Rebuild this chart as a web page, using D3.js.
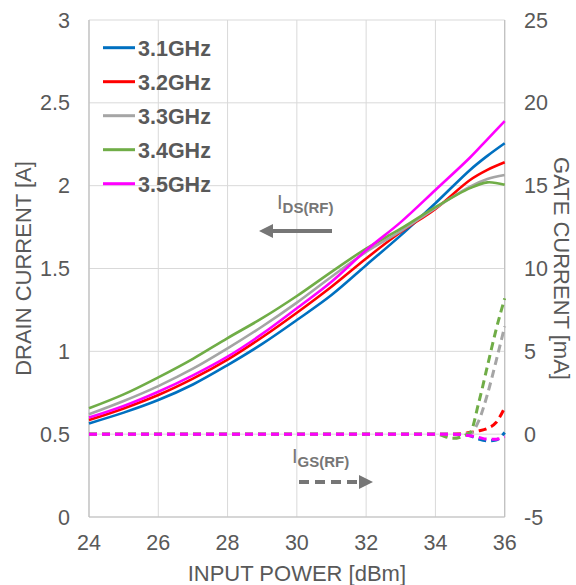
<!DOCTYPE html>
<html>
<head>
<meta charset="utf-8">
<script src="https://cdn.jsdelivr.net/npm/d3@7"></script>
<style>
  body { margin: 0; background: #fff; }
  svg text { font-family: "Liberation Sans", Arial, sans-serif; }
</style>
</head>
<body>
<svg id="chart" width="576" height="585"></svg>
<script>
// input power [dBm]
const drainX = [24, 25, 26, 27, 28, 29, 30, 31, 32, 33, 34, 35, 35.5, 36];
const gateX = [24, 30, 34, 34.5, 35, 35.25, 35.5, 35.75, 36];

const freqs = ["3.1GHz", "3.2GHz", "3.3GHz", "3.4GHz", "3.5GHz"];
const colors = ["#0070C0", "#FF0000", "#A5A5A5", "#70AD47", "#FF00FF"];

// drain current [A]
const ids31 = [0.565, 0.63, 0.706, 0.80, 0.917, 1.045, 1.189, 1.34, 1.52, 1.70, 1.894, 2.095, 2.18, 2.256];
const ids32 = [0.585, 0.655, 0.736, 0.835, 0.95, 1.085, 1.233, 1.39, 1.56, 1.72, 1.86, 2.034, 2.095, 2.141];
const ids33 = [0.62, 0.70, 0.79, 0.895, 1.018, 1.15, 1.294, 1.45, 1.60, 1.725, 1.865, 1.994, 2.04, 2.064];
const ids34 = [0.656, 0.74, 0.843, 0.955, 1.08, 1.20, 1.334, 1.48, 1.62, 1.74, 1.87, 1.985, 2.02, 2.005];
const ids35 = [0.60, 0.67, 0.756, 0.855, 0.968, 1.105, 1.26, 1.42, 1.61, 1.78, 1.974, 2.17, 2.28, 2.39];

// gate current [mA]
const igs31 = [0, 0, 0, 0, -0.1, -0.3, -0.4, -0.35, 0.1];
const igs32 = [0, 0, 0, 0, 0.1, 0.2, 0.35, 0.7, 1.6];
const igs33 = [0, 0, 0, 0, 0.05, 0.8, 2.4, 4.4, 6.5];
const igs34 = [0, 0, 0, -0.25, 0.1, 1.9, 4.1, 6.3, 8.2];
const igs35 = [0, 0, 0, 0, -0.1, -0.2, -0.3, -0.3, -0.15];

const xTicks = [24, 26, 28, 30, 32, 34, 36];
const leftTicks = [0, 0.5, 1, 1.5, 2, 2.5, 3];
const rightTicks = [-5, 0, 5, 10, 15, 20, 25];

const idsSeries = [ids31, ids32, ids33, ids34, ids35];
const igsSeries = [igs31, igs32, igs33, igs34, igs35];

const svg = d3.select("#chart");
const pLeft = 89, pRight = 504.7, pTop = 20, pBottom = 517;
const textColor = "#595959";
const tickSize = "21.5px";

const x = d3.scaleLinear().domain([24, 36]).range([pLeft, pRight]);
const yL = d3.scaleLinear().domain([0, 3]).range([pBottom, pTop]);
const yR = d3.scaleLinear().domain([-5, 25]).range([pBottom, pTop]);

// grid
svg.append("g").selectAll("line").data(xTicks).enter().append("line")
    .attr("x1", d => x(d)).attr("x2", d => x(d))
    .attr("y1", pTop).attr("y2", pBottom)
    .attr("stroke", "#d9d9d9").attr("stroke-width", 1);
svg.append("g").selectAll("line").data(leftTicks).enter().append("line")
    .attr("x1", pLeft).attr("x2", pRight)
    .attr("y1", d => yL(d)).attr("y2", d => yL(d))
    .attr("stroke", "#d9d9d9").attr("stroke-width", 1);

// axis lines
svg.append("line").attr("x1", pLeft).attr("x2", pLeft).attr("y1", pTop).attr("y2", pBottom)
    .attr("stroke", "#bfbfbf").attr("stroke-width", 1.2);
svg.append("line").attr("x1", pRight).attr("x2", pRight).attr("y1", pTop).attr("y2", pBottom)
    .attr("stroke", "#bfbfbf").attr("stroke-width", 1.2);
svg.append("line").attr("x1", pLeft).attr("x2", pRight).attr("y1", pBottom).attr("y2", pBottom)
    .attr("stroke", "#bfbfbf").attr("stroke-width", 1.2);

// tick labels
svg.append("g").selectAll("text").data(leftTicks).enter().append("text")
    .attr("x", 70).attr("y", d => yL(d) + 7.5)
    .attr("text-anchor", "end").attr("font-size", tickSize).attr("fill", textColor)
    .text(d => d);
svg.append("g").selectAll("text").data(rightTicks).enter().append("text")
    .attr("x", 524).attr("y", d => yR(d) + 7.5)
    .attr("text-anchor", "start").attr("font-size", tickSize).attr("fill", textColor)
    .text(d => d);
svg.append("g").selectAll("text").data(xTicks).enter().append("text")
    .attr("x", d => x(d)).attr("y", 550)
    .attr("text-anchor", "middle").attr("font-size", tickSize).attr("fill", textColor)
    .text(d => d);

// axis titles
svg.append("text").attr("transform", "translate(31," + (pTop + pBottom) / 2 + ") rotate(-90)")
    .attr("text-anchor", "middle").attr("font-size", "22px").attr("fill", textColor)
    .text("DRAIN CURRENT [A]");
svg.append("text").attr("transform", "translate(554," + (pTop + pBottom) / 2 + ") rotate(90)")
    .attr("text-anchor", "middle").attr("font-size", "22px").attr("fill", textColor)
    .text("GATE CURRENT [mA]");
svg.append("text").attr("x", (pLeft + pRight) / 2).attr("y", 581)
    .attr("text-anchor", "middle").attr("font-size", "22px").attr("fill", textColor)
    .text("INPUT POWER [dBm]");

// lines
const drainLine = d3.line().x((d, i) => x(drainX[i])).y(d => yL(d)).curve(d3.curveCatmullRom.alpha(0.5));
const gateLine = d3.line().x((d, i) => x(gateX[i])).y(d => yR(d)).curve(d3.curveMonotoneX);

svg.append("g").selectAll("path").data(igsSeries).enter().append("path")
    .attr("d", gateLine)
    .attr("fill", "none")
    .attr("stroke", (d, i) => colors[i])
    .attr("stroke-width", 3)
    .attr("stroke-dasharray", "8,5");

svg.append("g").selectAll("path").data(idsSeries).enter().append("path")
    .attr("d", drainLine)
    .attr("fill", "none")
    .attr("stroke", (d, i) => colors[i])
    .attr("stroke-width", 2.6);

// legend
const legend = svg.append("g").selectAll("g").data(freqs).enter().append("g")
    .attr("transform", (d, i) => "translate(103," + (47.7 + i * 34) + ")");
legend.append("line").attr("x1", 0).attr("x2", 32).attr("y1", 0).attr("y2", 0)
    .attr("stroke", (d, i) => colors[i]).attr("stroke-width", 3);
legend.append("text").attr("x", 35).attr("y", 7.8)
    .attr("font-size", "21.5px").attr("font-weight", "bold").attr("fill", textColor)
    .text(d => d);

// annotations
const annColor = "#767676";

const ids = svg.append("text").attr("x", 277).attr("y", 209).attr("fill", annColor);
ids.append("tspan").attr("font-size", "20px").text("I");
ids.append("tspan").attr("font-size", "15px").attr("font-weight", "bold").attr("dy", 4).text("DS(RF)");

svg.append("line").attr("x1", 332).attr("x2", 270).attr("y1", 231).attr("y2", 231)
    .attr("stroke", annColor).attr("stroke-width", 4);
svg.append("path").attr("d", d3.line()([[259, 231], [273, 224], [273, 238]]))
    .attr("fill", annColor);

const igs = svg.append("text").attr("x", 292).attr("y", 463).attr("fill", annColor);
igs.append("tspan").attr("font-size", "20px").text("I");
igs.append("tspan").attr("font-size", "15px").attr("font-weight", "bold").attr("dy", 4).text("GS(RF)");

svg.append("line").attr("x1", 299).attr("x2", 360).attr("y1", 482).attr("y2", 482)
    .attr("stroke", annColor).attr("stroke-width", 4).attr("stroke-dasharray", "10,6");
svg.append("path").attr("d", d3.line()([[373, 482], [359, 475], [359, 489]]))
    .attr("fill", annColor);
</script>
</body>
</html>
